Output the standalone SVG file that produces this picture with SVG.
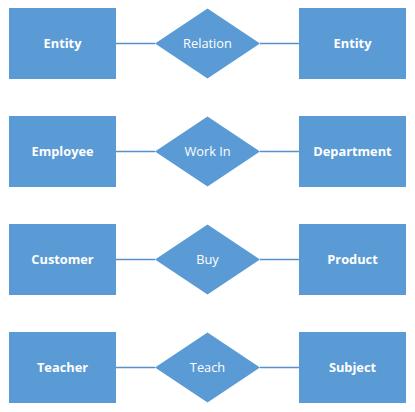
<svg xmlns="http://www.w3.org/2000/svg" width="415" height="412" viewBox="0 0 415 412">
<style>
.ent{fill:#5B9BD5}
.rel{fill:#5B9BD5}
.et{font-family:"Open Sans","Liberation Sans",sans-serif;font-size:12.8px;font-weight:bold;fill:#FFFFFF;text-anchor:middle}
.rt{font-family:"Open Sans","Liberation Sans",sans-serif;font-size:12.8px;fill:#FFFFFF;text-anchor:middle}
.ln{stroke:#5B8FC9;stroke-width:1.3;fill:none}
</style>
<rect width="415" height="412" fill="#FFFFFF"/>
<g id="connectors">
<line class="ln" x1="116" y1="43.5" x2="155" y2="43.5"/>
<line class="ln" x1="260" y1="43.5" x2="299" y2="43.5"/>
<line class="ln" x1="116" y1="151.5" x2="155" y2="151.5"/>
<line class="ln" x1="260" y1="151.5" x2="299" y2="151.5"/>
<line class="ln" x1="116" y1="259.5" x2="155" y2="259.5"/>
<line class="ln" x1="260" y1="259.5" x2="299" y2="259.5"/>
<line class="ln" x1="116" y1="367.5" x2="155" y2="367.5"/>
<line class="ln" x1="260" y1="367.5" x2="299" y2="367.5"/>
</g>
<g id="entity1"><rect class="ent" x="9" y="8" width="107" height="71"/><text class="et" x="62.5" y="48">Entity</text></g>
<g id="relation"><polygon class="rel" points="155,43.5 207.5,8.5 260,43.5 207.5,78.5"/><text class="rt" x="207.5" y="48">Relation</text></g>
<g id="entity2"><rect class="ent" x="299" y="8" width="107" height="71"/><text class="et" x="352.5" y="48">Entity</text></g>

<g id="employee"><rect class="ent" x="9" y="116" width="107" height="71"/><text class="et" x="62.5" y="156">Employee</text></g>
<g id="workin"><polygon class="rel" points="155,151.5 207.5,116.5 260,151.5 207.5,186.5"/><text class="rt" x="207.5" y="156">Work In</text></g>
<g id="department"><rect class="ent" x="299" y="116" width="107" height="71"/><text class="et" x="352.5" y="156">Department</text></g>

<g id="customer"><rect class="ent" x="9" y="224" width="107" height="71"/><text class="et" x="62.5" y="264">Customer</text></g>
<g id="buy"><polygon class="rel" points="155,259.5 207.5,224.5 260,259.5 207.5,294.5"/><text class="rt" x="207.5" y="264">Buy</text></g>
<g id="product"><rect class="ent" x="299" y="224" width="107" height="71"/><text class="et" x="352.5" y="264">Product</text></g>

<g id="teacher"><rect class="ent" x="9" y="332" width="107" height="71"/><text class="et" x="62.5" y="372">Teacher</text></g>
<g id="teach"><polygon class="rel" points="155,367.5 207.5,332.5 260,367.5 207.5,402.5"/><text class="rt" x="207.5" y="372">Teach</text></g>
<g id="subject"><rect class="ent" x="299" y="332" width="107" height="71"/><text class="et" x="352.5" y="372">Subject</text></g>
</svg>
